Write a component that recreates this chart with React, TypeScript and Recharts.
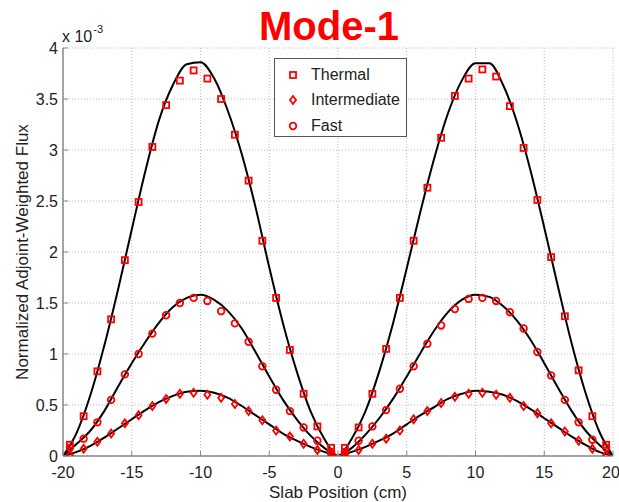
import React from 'react';
import {
  ComposedChart,
  Line,
  Scatter,
  XAxis,
  YAxis,
  CartesianGrid,
  Legend,
} from 'recharts';

// values are in units of 1e-3
const markerPositions = [
  -19.5, -18.5, -17.5, -16.5, -15.5, -14.5, -13.5, -12.5, -11.5, -10.5,
  -9.5, -8.5, -7.5, -6.5, -5.5, -4.5, -3.5, -2.5, -1.5, -0.5,
  0.5, 1.5, 2.5, 3.5, 4.5, 5.5, 6.5, 7.5, 8.5, 9.5,
  10.5, 11.5, 12.5, 13.5, 14.5, 15.5, 16.5, 17.5, 18.5, 19.5,
];

const thermalMarkers = [
  0.11, 0.39, 0.83, 1.34, 1.92, 2.49, 3.03, 3.44, 3.68, 3.78,
  3.7, 3.5, 3.15, 2.7, 2.11, 1.55, 1.04, 0.61, 0.29, 0.08,
  0.08, 0.28, 0.61, 1.05, 1.55, 2.11, 2.63, 3.12, 3.53, 3.7,
  3.79, 3.72, 3.43, 3.02, 2.51, 1.95, 1.37, 0.84, 0.39, 0.11,
];

const intermediateMarkers = [
  0.01, 0.07, 0.14, 0.22, 0.32, 0.4, 0.49, 0.56, 0.61, 0.62,
  0.6, 0.57, 0.51, 0.44, 0.35, 0.25, 0.19, 0.12, 0.06, 0.01,
  0.01, 0.06, 0.12, 0.17, 0.25, 0.36, 0.44, 0.52, 0.58, 0.61,
  0.62, 0.6, 0.57, 0.49, 0.42, 0.32, 0.24, 0.15, 0.07, 0.01,
];

const fastMarkers = [
  0.08, 0.17, 0.33, 0.55, 0.8, 1.0, 1.2, 1.38, 1.5, 1.55,
  1.52, 1.42, 1.3, 1.12, 0.88, 0.65, 0.44, 0.28, 0.15, 0.04,
  0.04, 0.15, 0.29, 0.45, 0.66, 0.88, 1.1, 1.28, 1.44, 1.54,
  1.55, 1.52, 1.41, 1.25, 1.02, 0.79, 0.55, 0.33, 0.16, 0.08,
];

const curvePositions = [
  -20, -19, -18, -17, -16, -15, -14, -13, -12, -11, -10,
  -9, -8, -7, -6, -5, -4, -3, -2, -1, 0,
  1, 2, 3, 4, 5, 6, 7, 8, 9, 10,
  11, 12, 13, 14, 15, 16, 17, 18, 19, 20,
];

const thermalCurve = [
  0, 0.23, 0.6, 1.08, 1.63, 2.22, 2.8, 3.3, 3.64, 3.84, 3.86,
  3.7, 3.38, 2.96, 2.44, 1.85, 1.3, 0.83, 0.44, 0.17, 0,
  0.17, 0.44, 0.83, 1.3, 1.84, 2.4, 2.92, 3.36, 3.68, 3.85,
  3.85, 3.64, 3.28, 2.8, 2.24, 1.66, 1.1, 0.62, 0.24, 0,
];

const intermediateCurve = [
  0, 0.04, 0.1, 0.18, 0.27, 0.36, 0.45, 0.53, 0.59, 0.63, 0.64,
  0.62, 0.57, 0.49, 0.4, 0.31, 0.22, 0.15, 0.09, 0.04, 0,
  0.04, 0.09, 0.15, 0.22, 0.31, 0.4, 0.48, 0.56, 0.61, 0.64,
  0.63, 0.6, 0.54, 0.46, 0.37, 0.28, 0.19, 0.11, 0.04, 0,
];

const fastCurve = [
  0, 0.12, 0.25, 0.44, 0.68, 0.91, 1.12, 1.31, 1.46, 1.55, 1.58,
  1.53, 1.42, 1.25, 1.02, 0.78, 0.55, 0.36, 0.2, 0.08, 0,
  0.08, 0.21, 0.37, 0.56, 0.78, 1.01, 1.23, 1.41, 1.53, 1.58,
  1.56, 1.47, 1.33, 1.14, 0.91, 0.67, 0.44, 0.25, 0.11, 0,
];

const xTicks = [-20, -15, -10, -5, 0, 5, 10, 15, 20];
const yTicks = [0, 0.5, 1, 1.5, 2, 2.5, 3, 3.5, 4];
const seriesNames = ['Thermal', 'Intermediate', 'Fast'];

const toPoints = (xs: number[], ys: number[]) => xs.map((x, i) => ({ x, y: ys[i] }));

const RED = '#ff0000';
const FONT = '"Liberation Sans", Arial, sans-serif';

type MarkerKind = 'square' | 'diamond' | 'circle';

function MarkerGlyph({ kind, cx, cy }: { kind: MarkerKind; cx: number; cy: number }) {
  const common = { fill: 'none', stroke: RED, strokeWidth: 1.8 };
  if (kind === 'square') return <rect x={cx - 3} y={cy - 3} width={6} height={6} {...common} />;
  if (kind === 'diamond')
    return (
      <polygon
        points={`${cx},${cy - 4} ${cx + 3},${cy} ${cx},${cy + 4} ${cx - 3},${cy}`}
        {...common}
      />
    );
  return <circle cx={cx} cy={cy} r={3.3} {...common} />;
}

const makeShape = (kind: MarkerKind) => (props: any) =>
  props.cx == null ? <g /> : <MarkerGlyph kind={kind} cx={props.cx} cy={props.cy} />;

const markerKinds: MarkerKind[] = ['square', 'diamond', 'circle'];

function LegendBox() {
  return (
    <div
      style={{
        border: '1px solid #555',
        background: '#fff',
        width: 133,
        height: 79,
        boxSizing: 'border-box',
        padding: '3px 0 0 0',
        fontFamily: FONT,
        fontSize: 16,
        color: '#222',
      }}
    >
      {seriesNames.map((name, i) => (
        <div key={name} style={{ display: 'flex', alignItems: 'center', height: 25.5 }}>
          <svg width={36} height={20} style={{ flex: 'none' }}>
            <MarkerGlyph kind={markerKinds[i]} cx={18} cy={10} />
          </svg>
          <span>{name}</span>
        </div>
      ))}
    </div>
  );
}

export default function App() {
  const thermalPts = toPoints(markerPositions, thermalMarkers);
  const intermediatePts = toPoints(markerPositions, intermediateMarkers);
  const fastPts = toPoints(markerPositions, fastMarkers);
  const tick = { fontSize: 16, fill: '#222', fontFamily: FONT };

  return (
    <div
      style={{
        position: 'absolute',
        left: 0,
        top: 0,
        width: 619,
        height: 502,
        background: '#fff',
        overflow: 'hidden',
        fontFamily: FONT,
      }}
    >
      <div
        style={{
          position: 'absolute',
          left: 0,
          width: 658,
          top: 1,
          textAlign: 'center',
          color: RED,
          fontWeight: 'bold',
          fontSize: 40,
          lineHeight: '50px',
        }}
      >
        Mode-1
      </div>
      <div style={{ position: 'absolute', left: 62, top: 28, fontSize: 16, color: '#222' }}>
        x 10
        <span style={{ fontSize: 11, position: 'relative', top: -9, marginLeft: 1 }}>-3</span>
      </div>
      <ComposedChart
        width={619}
        height={502}
        margin={{ top: 48, right: 6, left: 0, bottom: 0 }}
        style={{ position: 'absolute', left: 0, top: 0 }}
      >
        <CartesianGrid stroke="#bbb" strokeDasharray="1 2" />
        <XAxis
          dataKey="x"
          type="number"
          domain={[-20, 20]}
          ticks={xTicks}
          allowDataOverflow
          height={46}
          tick={tick}
          tickSize={-5}
          tickMargin={16}
          tickLine={{ stroke: '#888' }}
          axisLine={{ stroke: '#888', strokeWidth: 1.5 }}
          label={{
            value: 'Slab Position (cm)',
            position: 'insideBottom',
            offset: 4,
            style: { fontSize: 17, fill: '#222', fontFamily: FONT },
          }}
        />
        <YAxis
          type="number"
          domain={[0, 4]}
          ticks={yTicks}
          allowDataOverflow
          width={63}
          tick={tick}
          tickSize={-5}
          tickMargin={10}
          tickLine={{ stroke: '#888' }}
          axisLine={{ stroke: '#888', strokeWidth: 1.5 }}
          label={{
            value: 'Normalized Adjoint-Weighted Flux',
            angle: -90,
            position: 'insideLeft',
            offset: 22,
            style: { textAnchor: 'middle', fontSize: 17, fill: '#222', fontFamily: FONT },
          }}
        />
        <Legend
          layout="vertical"
          verticalAlign="middle"
          align="center"
          wrapperStyle={{ position: 'absolute', left: 274, top: 58, width: 133, height: 79 }}
          content={() => <LegendBox />}
        />
        <Scatter name="Thermal" data={thermalPts} dataKey="y" shape={makeShape('square')} isAnimationActive={false} />
        <Scatter name="Intermediate" data={intermediatePts} dataKey="y" shape={makeShape('diamond')} isAnimationActive={false} />
        <Scatter name="Fast" data={fastPts} dataKey="y" shape={makeShape('circle')} isAnimationActive={false} />
        <Line data={toPoints(curvePositions, thermalCurve)} dataKey="y" type="monotone" stroke="#000" strokeWidth={2} dot={false} legendType="none" isAnimationActive={false} />
        <Line data={toPoints(curvePositions, intermediateCurve)} dataKey="y" type="monotone" stroke="#000" strokeWidth={2} dot={false} legendType="none" isAnimationActive={false} />
        <Line data={toPoints(curvePositions, fastCurve)} dataKey="y" type="monotone" stroke="#000" strokeWidth={2} dot={false} legendType="none" isAnimationActive={false} />
      </ComposedChart>
    </div>
  );
}
